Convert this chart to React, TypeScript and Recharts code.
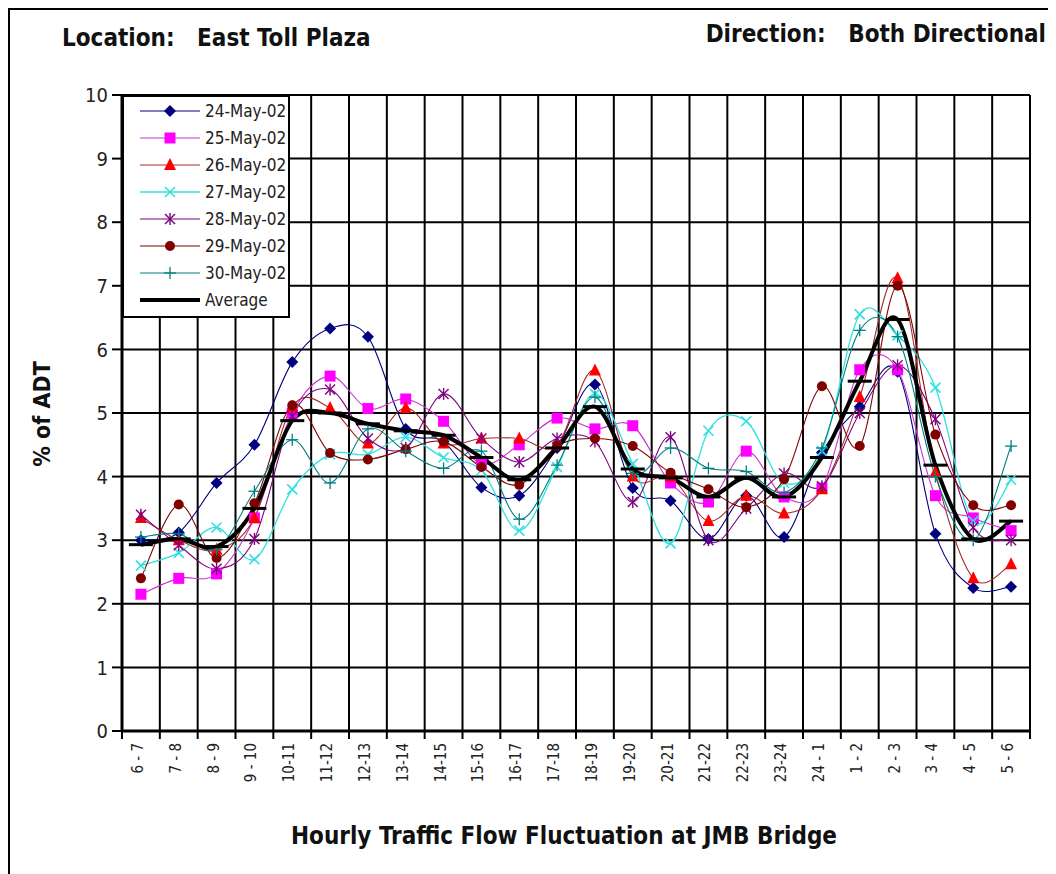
import React from "react";
import { LineChart, Line, XAxis, YAxis, CartesianGrid, Legend } from "recharts";

const hours = ["6 - 7", "7 - 8", "8 - 9", "9 - 10", "10-11", "11-12", "12-13", "13-14", "14-15", "15-16", "16-17", "17-18", "18-19", "19-20", "20-21", "21-22", "22-23", "23-24", "24 - 1", "1 - 2", "2 - 3", "3 - 4", "4 - 5", "5 - 6"];

const may24 = [3.0, 3.12, 3.9, 4.5, 5.8, 6.33, 6.2, 4.75, 4.55, 3.83, 3.7, 4.45, 5.45, 3.82, 3.62, 3.02, 3.7, 3.05, 4.38, 5.1, 5.65, 3.1, 2.25, 2.27];
const may25 = [2.15, 2.4, 2.47, 3.35, 5.0, 5.58, 5.07, 5.22, 4.87, 4.2, 4.5, 4.92, 4.75, 4.8, 3.9, 3.6, 4.4, 3.68, 3.82, 5.68, 5.68, 3.7, 3.35, 3.15];
const may26 = [3.35, 3.0, 2.85, 3.35, 5.1, 5.08, 4.52, 5.08, 4.52, 4.6, 4.6, 4.5, 5.67, 4.0, 4.0, 3.3, 3.7, 3.42, 3.8, 5.25, 7.12, 4.07, 2.4, 2.62];
const may27 = [2.6, 2.8, 3.2, 2.7, 3.8, 4.35, 4.35, 4.62, 4.3, 4.1, 3.15, 4.15, 5.3, 4.2, 2.95, 4.72, 4.87, 3.9, 4.4, 6.55, 6.22, 5.4, 3.3, 3.95];
const may28 = [3.4, 2.92, 2.55, 3.02, 4.95, 5.37, 4.6, 4.45, 5.3, 4.6, 4.23, 4.6, 4.55, 3.6, 4.62, 3.0, 3.5, 4.05, 3.85, 5.0, 5.75, 4.9, 3.2, 3.0];
const may29 = [2.4, 3.56, 2.72, 3.58, 5.12, 4.37, 4.27, 4.43, 4.55, 4.15, 3.87, 4.48, 4.6, 4.48, 4.06, 3.8, 3.52, 3.96, 5.42, 4.48, 7.0, 4.66, 3.55, 3.55];
const may30 = [3.05, 3.1, 2.85, 3.77, 4.58, 3.9, 4.75, 4.4, 4.13, 4.4, 3.33, 4.18, 5.25, 4.05, 4.45, 4.13, 4.08, 3.75, 4.45, 6.3, 6.2, 4.0, 3.0, 4.48];
const average = [2.93, 3.02, 2.9, 3.5, 4.88, 5.0, 4.83, 4.72, 4.65, 4.3, 3.95, 4.45, 5.1, 4.12, 3.98, 3.68, 3.98, 3.68, 4.3, 5.5, 6.47, 4.18, 3.02, 3.3];

const yTicks = [0, 1, 2, 3, 4, 5, 6, 7, 8, 9, 10];

const seriesNames = ["24-May-02", "25-May-02", "26-May-02", "27-May-02", "28-May-02", "29-May-02", "30-May-02", "Average"];
const seriesValues = [may24, may25, may26, may27, may28, may29, may30, average];
const seriesStyle = [
  { marker: "diamond", fill: "#000080", line: "#000080", width: 1.1 },
  { marker: "square", fill: "#FF00FF", line: "#CC33CC", width: 1.1 },
  { marker: "triangle", fill: "#FF0000", line: "#A52A2A", width: 1.1 },
  { marker: "x", fill: "#33E0E0", line: "#33E0E0", width: 1.3 },
  { marker: "star", fill: "#800080", line: "#800080", width: 1.1 },
  { marker: "circle", fill: "#800000", line: "#800000", width: 1.1 },
  { marker: "plus", fill: "#008080", line: "#008080", width: 1.1 },
  { marker: "dash", fill: "#000000", line: "#000000", width: 4 },
];

const data = hours.map((hour, i) => {
  const row: Record<string, string | number> = { hour };
  seriesNames.forEach((name, s) => (row[name] = seriesValues[s][i]));
  return row;
});

const FONT = "'Liberation Sans Narrow', 'Arial Narrow', 'DejaVu Sans Condensed', 'Liberation Sans', sans-serif";
const CHART_W = 1030;
const CHART_H = 860;
const MARGIN = { top: 85, right: 10, left: 52, bottom: 59 };
const YAXIS_W = 60;
const PLOT_W = CHART_W - MARGIN.left - MARGIN.right - YAXIS_W;
const HALF = PLOT_W / hours.length / 2;

// Excel-like smoothed line (uniform Catmull-Rom as cubic beziers)
const smooth = (context: any) => {
  let pts: number[][] = [];
  return {
    areaStart() {},
    areaEnd() {},
    lineStart() {
      pts = [];
    },
    point(x: number, y: number) {
      pts.push([+x, +y]);
    },
    lineEnd() {
      if (!pts.length) return;
      context.moveTo(pts[0][0], pts[0][1]);
      for (let i = 0; i < pts.length - 1; i++) {
        const p0 = pts[i - 1] || pts[i];
        const p1 = pts[i];
        const p2 = pts[i + 1];
        const p3 = pts[i + 2] || p2;
        context.bezierCurveTo(
          p1[0] + (p2[0] - p0[0]) / 6,
          p1[1] + (p2[1] - p0[1]) / 6,
          p2[0] - (p3[0] - p1[0]) / 6,
          p2[1] - (p3[1] - p1[1]) / 6,
          p2[0],
          p2[1]
        );
      }
    },
  };
};

const Marker = ({ cx, cy, kind, color }: { cx: number; cy: number; kind: string; color: string }) => {
  switch (kind) {
    case "diamond":
      return <polygon points={`${cx},${cy - 6} ${cx + 6},${cy} ${cx},${cy + 6} ${cx - 6},${cy}`} fill={color} />;
    case "square":
      return <rect x={cx - 5.5} y={cy - 5.5} width={11} height={11} fill={color} />;
    case "triangle":
      return <polygon points={`${cx},${cy - 7} ${cx + 6},${cy + 5} ${cx - 6},${cy + 5}`} fill={color} />;
    case "x":
      return (
        <g stroke={color} strokeWidth={1.6}>
          <line x1={cx - 5} y1={cy - 5} x2={cx + 5} y2={cy + 5} />
          <line x1={cx - 5} y1={cy + 5} x2={cx + 5} y2={cy - 5} />
        </g>
      );
    case "star":
      return (
        <g stroke={color} strokeWidth={1.4}>
          <line x1={cx - 5} y1={cy - 5} x2={cx + 5} y2={cy + 5} />
          <line x1={cx - 5} y1={cy + 5} x2={cx + 5} y2={cy - 5} />
          <line x1={cx} y1={cy - 6} x2={cx} y2={cy + 6} />
        </g>
      );
    case "circle":
      return <circle cx={cx} cy={cy} r={5} fill={color} />;
    case "plus":
      return (
        <g stroke={color} strokeWidth={1.3}>
          <line x1={cx - 6} y1={cy} x2={cx + 6} y2={cy} />
          <line x1={cx} y1={cy - 6} x2={cx} y2={cy + 6} />
        </g>
      );
    case "dash":
      return <line x1={cx - 12} y1={cy} x2={cx + 12} y2={cy} stroke={color} strokeWidth={3} />;
    default:
      return null;
  }
};

const makeDot = (kind: string, color: string) => (props: any) => {
  const { cx, cy, index } = props;
  if (cx == null || cy == null) return <g key={index} />;
  return (
    <g key={index}>
      <Marker cx={cx} cy={cy} kind={kind} color={color} />
    </g>
  );
};

const XTick = (props: any) => {
  const { x, y, payload, index } = props;
  return (
    <g>
      <line x1={x - HALF} x2={x - HALF} y1={y - 10} y2={y - 2} stroke="#000" strokeWidth={2} />
      {index === hours.length - 1 && <line x1={x + HALF} x2={x + HALF} y1={y - 10} y2={y - 2} stroke="#000" strokeWidth={2} />}
      <text transform={`translate(${x + 2},${y + 2}) rotate(-90)`} textAnchor="end" fontSize={15} fontFamily={FONT} fill="#222">
        {payload.value}
      </text>
    </g>
  );
};

const LegendBox = () => (
  <div style={{ background: "#fff", border: "2px solid #000", boxSizing: "border-box", width: 168, height: 223, paddingTop: 0 }}>
    {seriesNames.map((name, s) => (
      <div key={name} style={{ display: "flex", alignItems: "center", height: 27 }}>
        <svg width={78} height={20} style={{ flexShrink: 0 }}>
          <line x1={16} y1={10} x2={76} y2={10} stroke={seriesStyle[s].line} strokeWidth={seriesStyle[s].width} />
          {seriesStyle[s].marker !== "dash" && <Marker cx={46} cy={10} kind={seriesStyle[s].marker} color={seriesStyle[s].fill} />}
        </svg>
        <span style={{ fontFamily: FONT, fontSize: 17, color: "#222", marginLeft: 3 }}>{name}</span>
      </div>
    ))}
  </div>
);

export default function App() {
  return (
    <div style={{ position: "relative", width: 1044, height: 880, border: "2px solid #000", boxSizing: "border-box", background: "#fff", fontFamily: FONT }}>
      <div style={{ position: "absolute", left: 52, top: 14, fontSize: 24, fontWeight: "bold", color: "#111", whiteSpace: "pre" }}>
        {"Location:   East Toll Plaza"}
      </div>
      <div style={{ position: "absolute", right: 4, top: 10, fontSize: 24, fontWeight: "bold", color: "#111", whiteSpace: "pre" }}>
        {"Direction:   Both Directional"}
      </div>
      <div
        style={{
          position: "absolute",
          left: 32,
          top: 404,
          transform: "translate(-50%, -50%) rotate(-90deg)",
          fontSize: 23,
          fontWeight: "bold",
          color: "#111",
          whiteSpace: "nowrap",
        }}
      >
        % of ADT
      </div>
      <div
        style={{
          position: "absolute",
          left: 554,
          top: 826,
          transform: "translate(-50%, -50%)",
          fontSize: 24,
          fontWeight: "bold",
          color: "#111",
          whiteSpace: "nowrap",
        }}
      >
        Hourly Traffic Flow Fluctuation at JMB Bridge
      </div>
      <div style={{ position: "absolute", left: 0, top: 0 }}>
        <LineChart width={CHART_W} height={CHART_H} data={data} margin={MARGIN}>
          <CartesianGrid
            stroke="#000"
            strokeWidth={2}
            verticalCoordinatesGenerator={({ offset }: any) =>
              Array.from({ length: hours.length + 1 }, (_, i) => offset.left + (offset.width * i) / hours.length)
            }
          />
          <XAxis
            dataKey="hour"
            interval={0}
            padding={{ left: HALF, right: HALF }}
            tickLine={false}
            tickSize={8}
            tickMargin={2}
            height={80}
            axisLine={{ stroke: "#000", strokeWidth: 3 }}
            tick={<XTick />}
          />
          <YAxis
            domain={[0, 10]}
            ticks={yTicks}
            width={YAXIS_W}
            tickSize={10}
            tickMargin={4}
            axisLine={{ stroke: "#000", strokeWidth: 3 }}
            tickLine={{ stroke: "#000", strokeWidth: 2 }}
            tick={{ fontSize: 20, fill: "#222", fontFamily: FONT }}
          />
          <Legend
            layout="vertical"
            align="center"
            verticalAlign="middle"
            content={<LegendBox />}
            wrapperStyle={{ left: 112, top: 85, width: 168, height: 223 }}
          />
          {seriesNames.map((name, s) => (
            <Line
              key={name}
              dataKey={name}
              type={smooth as any}
              stroke={seriesStyle[s].line}
              strokeWidth={seriesStyle[s].width}
              dot={makeDot(seriesStyle[s].marker, seriesStyle[s].fill)}
              activeDot={false}
              isAnimationActive={false}
            />
          ))}
        </LineChart>
      </div>
    </div>
  );
}
